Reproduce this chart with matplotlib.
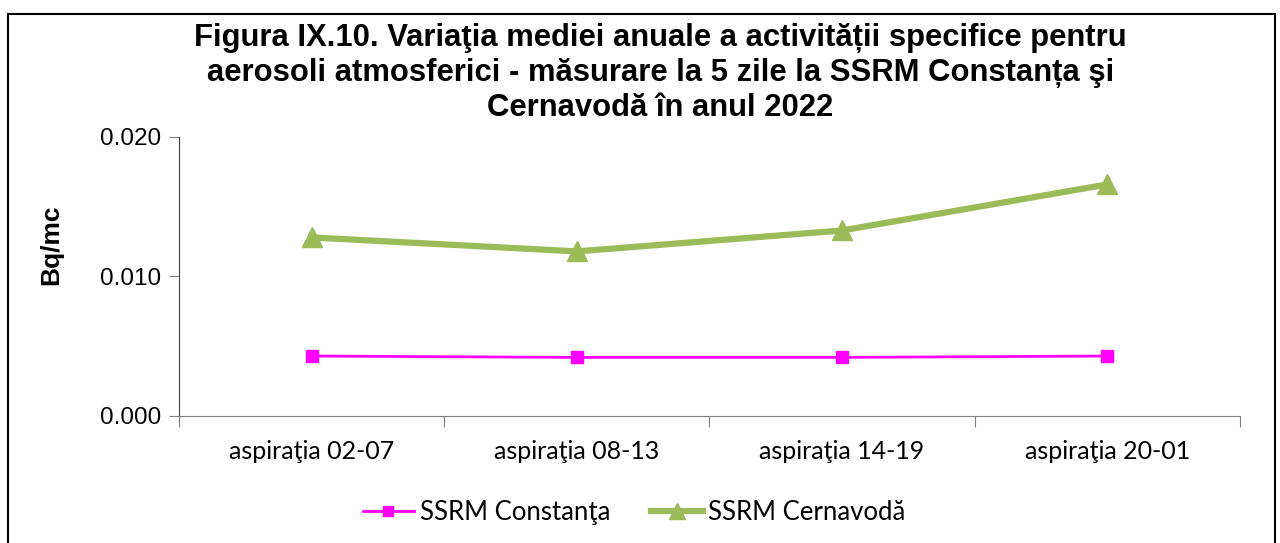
import matplotlib.pyplot as plt
from matplotlib.patches import Rectangle

# data
categories = ["aspiraţia 02-07", "aspiraţia 08-13", "aspiraţia 14-19", "aspiraţia 20-01"]
constanta = [0.0043, 0.0042, 0.0042, 0.0043]
cernavoda = [0.0128, 0.0118, 0.0133, 0.0166]
y_ticks = [0.000, 0.010, 0.020]

fig = plt.figure(figsize=(12.8, 5.43), dpi=100)
ax = fig.add_axes([0.1398, 0.2339, 0.8289, 0.5138])

x = range(len(categories))
ax.plot(x, constanta, color="#FF00FF", lw=2, marker="s", ms=9,
        label="SSRM Constanţa")
ax.plot(x, cernavoda, color="#9BBB59", lw=4.5, marker="^", ms=15,
        label="SSRM Cernavodă")

ax.set_xlim(-0.5, len(categories) - 0.5)
ax.set_ylim(0, 0.020)
ax.set_yticks(y_ticks)
ax.set_yticklabels([f"{v:.3f}" for v in y_ticks], fontsize=17.5, family="Liberation Sans")
ax.set_xticks([i - 0.5 for i in range(len(categories) + 1)], minor=False)
ax.set_xticklabels([])
ax.set_xticks(list(x), minor=True)
ax.set_xticklabels(categories, minor=True, fontsize=18, family="Lato")
ax.tick_params(axis="x", which="major", length=8, color="#808080")
ax.tick_params(axis="x", which="minor", length=0, pad=17)
ax.tick_params(axis="y", length=7, color="#808080", pad=6)

for s in ["top", "right"]:
    ax.spines[s].set_visible(False)
ax.spines["left"].set_color("#404040")
ax.spines["bottom"].set_color("#808080")

ax.set_ylabel("Bq/mc", fontsize=19, fontweight="bold", family="Liberation Sans")
ax.yaxis.set_label_coords(-0.109, 0.613)

fig.suptitle("Figura IX.10. Variaţia mediei anuale a activității specifice pentru\n"
             "aerosoli atmosferici - măsurare la 5 zile la SSRM Constanța şi\n"
             "Cernavodă în anul 2022",
             x=0.516, y=0.958, fontsize=22.3, fontweight="bold", family="Liberation Sans",
             linespacing=1.22)

ax.legend(loc="center", bbox_to_anchor=(0.429, -0.345), ncol=2, frameon=False,
          prop={"family": "Lato", "size": 18.5}, handlelength=2.0, handletextpad=0.22,
          columnspacing=1.6, markerscale=0.8)

fig.patches.append(Rectangle((0.006, -0.05), 0.99, 1.025, transform=fig.transFigure,
                             fill=False, edgecolor="black", lw=1.5))

fig.savefig("out.png", dpi=100)
